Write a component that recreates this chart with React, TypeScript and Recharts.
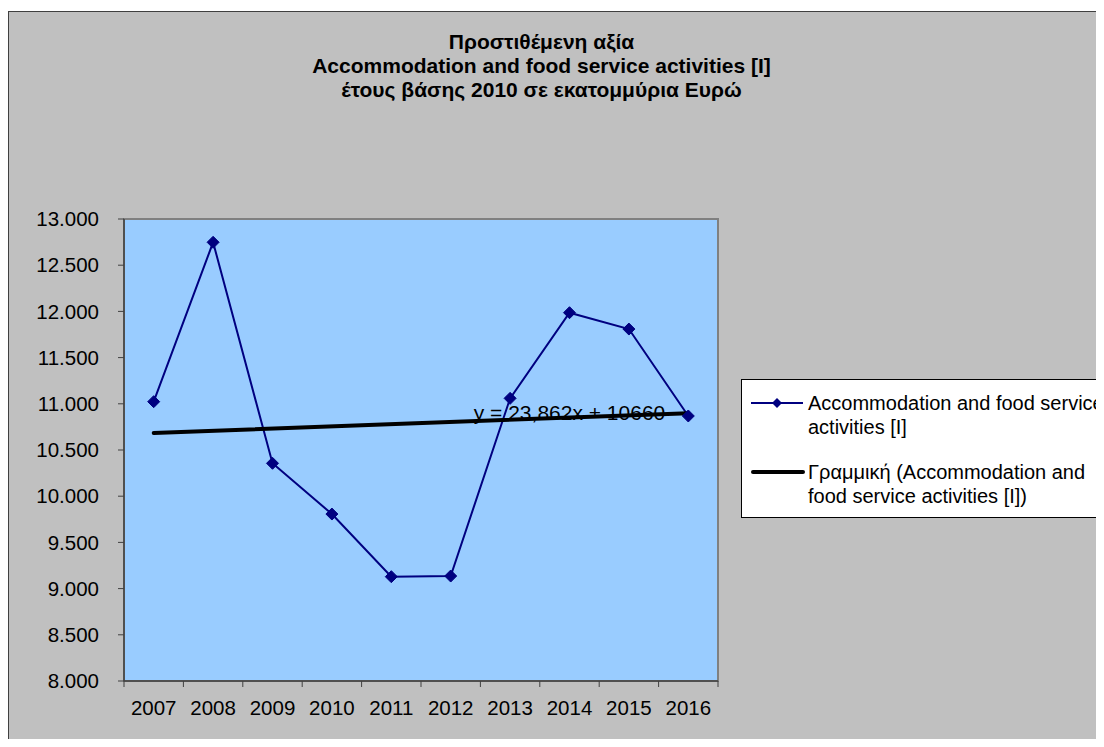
import React from "react";
import { ComposedChart, Line, XAxis, YAxis, ReferenceArea, ReferenceDot } from "recharts";

const years = ["2007", "2008", "2009", "2010", "2011", "2012", "2013", "2014", "2015", "2016"];
const values = [11023, 12748, 10356, 9807, 9129, 9136, 11059, 11986, 11809, 10868];
const trend = [10684, null, null, null, null, null, null, null, null, 10899];
const yTicks = [8000, 8500, 9000, 9500, 10000, 10500, 11000, 11500, 12000, 12500, 13000];
const titleLines = [
  "Προστιθέμενη αξία",
  "Accommodation and food service activities [I]",
  "έτους βάσης 2010 σε εκατομμύρια Ευρώ",
];
const seriesName = "Accommodation and food service activities [I]";
const trendName = "Γραμμική (Accommodation and food service activities [I])";
const trendLabel = "y = 23,862x + 10660";

const data = years.map((year, i) => ({ year, value: values[i], trend: trend[i] }));

const FONT = "Arial, 'Liberation Sans', sans-serif";
const NAVY = "#000080";
const AXIS = "#404040";

const fmt = (v: number) => v.toLocaleString("de-DE");

function Diamond(props: any) {
  const { cx, cy } = props;
  if (cx == null || cy == null) return null;
  const s = 6;
  return <polygon points={`${cx},${cy - s} ${cx + s},${cy} ${cx},${cy + s} ${cx - s},${cy}`} fill={NAVY} stroke={NAVY} />;
}

const TICK_SIZE = 6;
const TICK_MARGIN = 8;

function YearTick(props: any) {
  const { x, y, payload, index } = props;
  const half = payload?.offset ?? 0;
  const top = y - TICK_MARGIN - TICK_SIZE;
  return (
    <g>
      <line x1={x - half} x2={x - half} y1={top} y2={top + TICK_SIZE} stroke={AXIS} />
      {index === years.length - 1 && (
        <line x1={x + half} x2={x + half} y1={top} y2={top + TICK_SIZE} stroke={AXIS} />
      )}
      <text x={x} y={y + 13} dy="0.355em" textAnchor="middle" fill="#000" fontSize={20.5} fontFamily={FONT}>
        {payload.value}
      </text>
    </g>
  );
}

function LegendBox() {
  return (
    <div
      style={{
        position: "absolute",
        left: 732,
        top: 367,
        width: 400,
        height: 137,
        border: "1px solid #000",
        background: "#fff",
        fontFamily: FONT,
        fontSize: 20,
        lineHeight: "24px",
        color: "#000",
      }}
    >
      <svg width={56} height={12} style={{ position: "absolute", left: 9, top: 17 }}>
        <line x1={0} x2={52} y1={6} y2={6} stroke={NAVY} strokeWidth={2} />
        <polygon points="26,1 31,6 26,11 21,6" fill={NAVY} />
      </svg>
      <div style={{ position: "absolute", left: 66, top: 11, whiteSpace: "pre" }}>
        {"Accommodation and food service\nactivities [I]"}
      </div>
      <svg width={56} height={12} style={{ position: "absolute", left: 9, top: 86 }}>
        <line x1={2} x2={52} y1={6} y2={6} stroke="#000" strokeWidth={4} strokeLinecap="round" />
      </svg>
      <div style={{ position: "absolute", left: 66, top: 80, whiteSpace: "pre" }}>
        {"Γραμμική (Accommodation and\nfood service activities [I])"}
      </div>
    </div>
  );
}

export default function App() {
  return (
    <div style={{ position: "relative", width: 1096, height: 731, overflow: "hidden" }}>
      <div
        style={{
          position: "absolute",
          left: 0,
          top: 3,
          width: 1098,
          height: 738,
          border: `1px solid ${AXIS}`,
          background: "#C0C0C0",
        }}
      >
        <div
          style={{
            position: "absolute",
            left: 0,
            top: 18,
            width: 1065,
            textAlign: "center",
            fontFamily: FONT,
            fontWeight: "bold",
            fontSize: 21,
            lineHeight: "24px",
            color: "#000",
          }}
        >
          {titleLines.map((t) => (
            <div key={t}>{t}</div>
          ))}
        </div>
        <ComposedChart
          width={1098}
          height={738}
          data={data}
          margin={{ top: 207, right: 389, bottom: 29, left: 0 }}
        >
          <ReferenceArea y1={8000} y2={13000} fill="#99CCFF" fillOpacity={1} stroke="#808080" strokeWidth={2} />
          <XAxis
            dataKey="year"
            scale="band"
            height={40}
            axisLine={{ stroke: AXIS, strokeWidth: 1.5 }}
            tickLine={false}
            tickSize={TICK_SIZE}
            tickMargin={TICK_MARGIN}
            tick={<YearTick />}
            interval={0}
          />
          <YAxis
            type="number"
            domain={[8000, 13000]}
            ticks={yTicks}
            interval={0}
            width={115}
            tickFormatter={fmt}
            tickSize={TICK_SIZE}
            tickMargin={19}
            axisLine={{ stroke: AXIS, strokeWidth: 1.5 }}
            tickLine={{ stroke: AXIS }}
            tick={{ fill: "#000", fontSize: 20.5, fontFamily: FONT }}
          />
          <ReferenceDot
            x="2014"
            y={10900}
            r={0}
            fill="none"
            stroke="none"
            label={{ value: trendLabel, position: "center", fill: "#000", fontSize: 21, fontFamily: FONT }}
          />
          <Line
            dataKey="value"
            name={seriesName}
            stroke={NAVY}
            strokeWidth={2}
            dot={<Diamond />}
            activeDot={false}
            isAnimationActive={false}
          />
          <Line
            dataKey="trend"
            name={trendName}
            stroke="#000"
            strokeWidth={4}
            strokeLinecap="round"
            connectNulls
            dot={false}
            activeDot={false}
            isAnimationActive={false}
          />
        </ComposedChart>
        <LegendBox />
      </div>
    </div>
  );
}
